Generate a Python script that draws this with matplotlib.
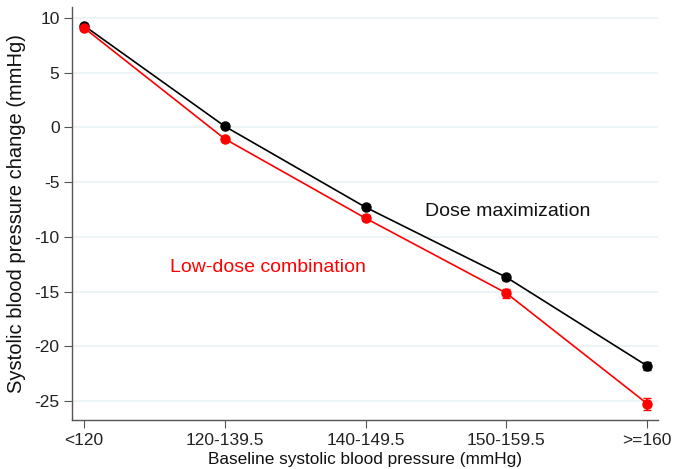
# Systolic BP change by baseline SBP category, two treatment strategies.

import numpy as np
import matplotlib.pyplot as plt

plt.rcParams["font.family"] = ["Liberation Sans", "DejaVu Sans"]
plt.rcParams["axes.unicode_minus"] = False

categories = ["<120", "120-139.5", "140-149.5", "150-159.5", ">=160"]

dose_max = [9.3, 0.1, -7.3, -13.7, -21.8]
dose_max_err = [0.15, 0.15, 0.2, 0.25, 0.35]

low_dose = [9.1, -1.05, -8.3, -15.15, -25.25]
low_dose_err = [0.2, 0.2, 0.25, 0.4, 0.55]

GRID = "#eaf2f3"


def main():
    x = np.arange(len(categories))

    fig = plt.figure(figsize=(6.73, 4.69), dpi=100)
    ax = fig.add_axes([0.107, 0.1045, 0.871, 0.8805])

    ax.errorbar(x, dose_max, yerr=dose_max_err, color="black", lw=1.2,
                marker="o", ms=6.5, capsize=3, elinewidth=1.2, zorder=3)
    ax.errorbar(x, low_dose, yerr=low_dose_err, color="red", lw=1.2,
                marker="o", ms=6.5, capsize=3, elinewidth=1.2, zorder=3)

    ax.set_xlim(-0.085, 4.078)
    ax.set_ylim(-26.74, 11.0)
    ax.set_xticks(x)
    ax.set_xticklabels(categories)
    ax.set_yticks(np.arange(-25, 11, 5))

    for y in np.arange(-25, 11, 5):
        ax.axhline(y, color=GRID, lw=1.2, zorder=0)

    for side in ("top", "right"):
        ax.spines[side].set_visible(False)
    for side in ("left", "bottom"):
        ax.spines[side].set_color("#555555")
        ax.spines[side].set_linewidth(1.0)
    ax.tick_params(axis="both", labelsize=12.5, length=6, color="#555555",
                   labelcolor="#222222")
    ax.tick_params(axis="y", pad=3)

    ax.text(2.42, -7.7, "Dose maximization", fontsize=14, color="#111111",
            va="center", ha="left")
    ax.text(0.61, -12.8, "Low-dose combination", fontsize=14, color="red",
            va="center", ha="left")

    ax.set_ylabel("Systolic blood pressure change (mmHg)", fontsize=14.5,
                  color="#111111", labelpad=6)
    ax.set_xlabel("Baseline systolic blood pressure (mmHg)", fontsize=12.4,
                  color="#111111", labelpad=3)

    fig.savefig("out.png", dpi=100)


if __name__ == "__main__":
    main()
